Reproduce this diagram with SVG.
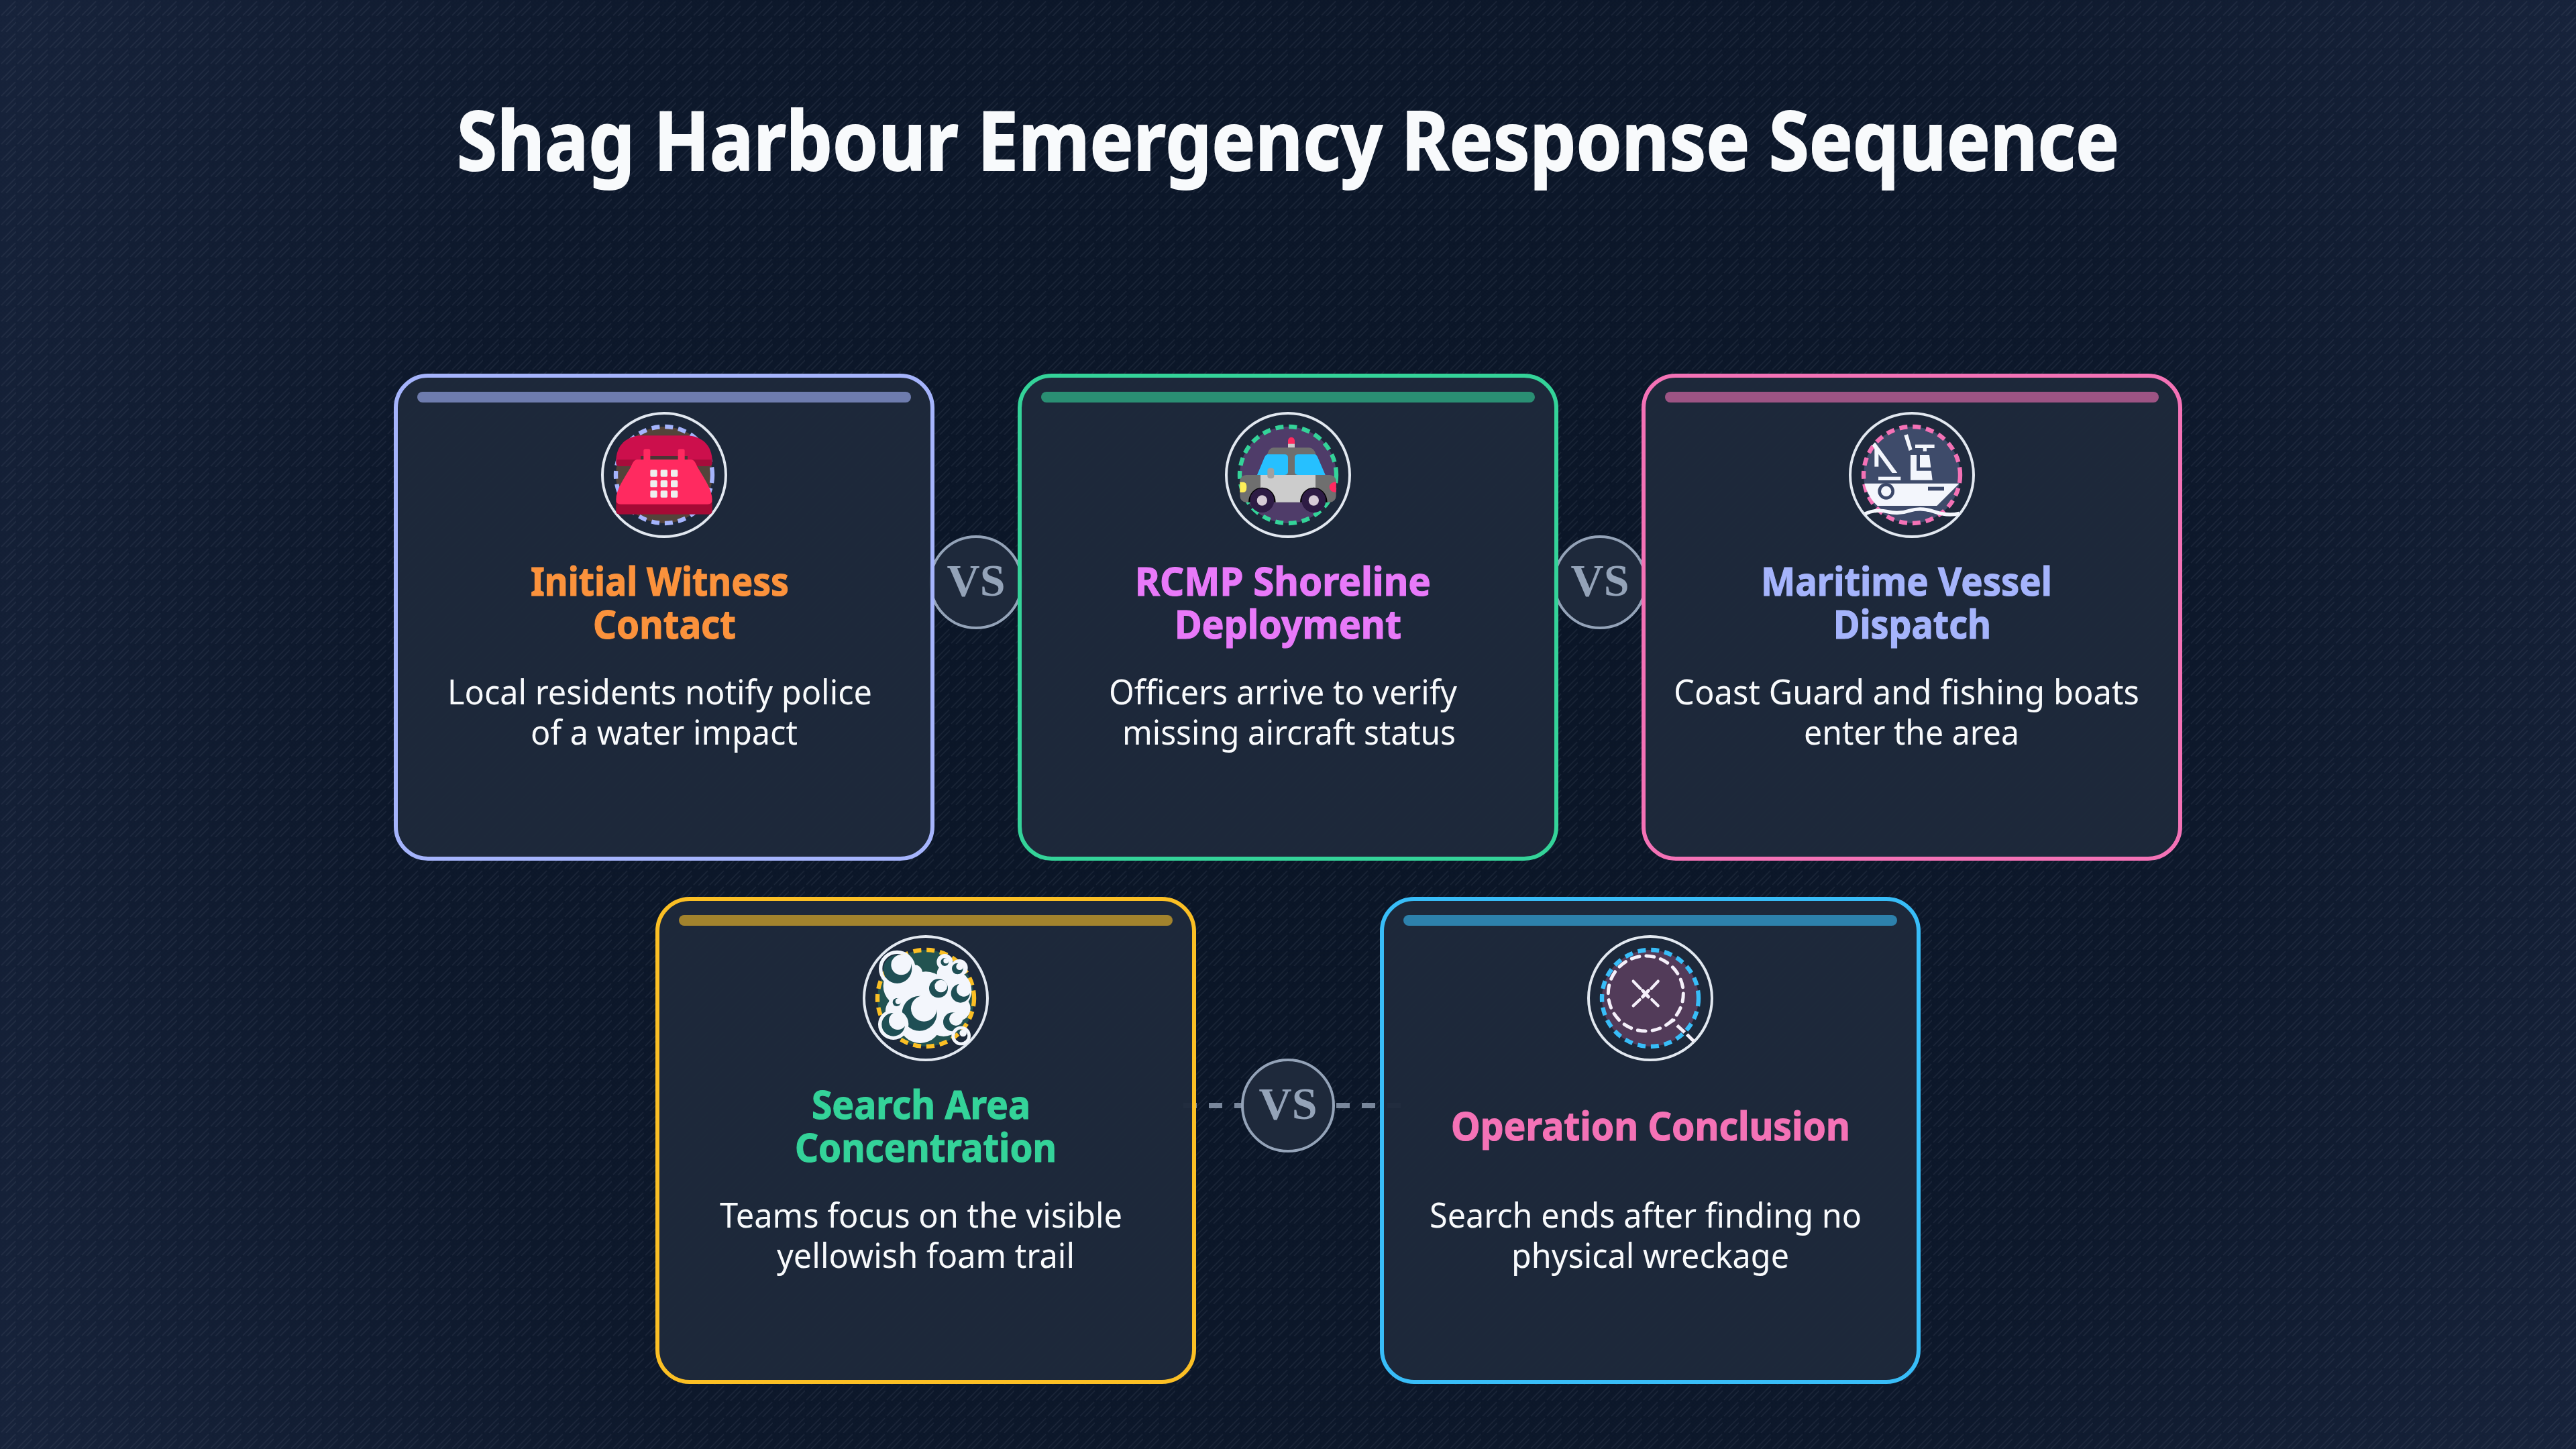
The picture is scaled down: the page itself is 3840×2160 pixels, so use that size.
<svg xmlns="http://www.w3.org/2000/svg" width="3840" height="2160" viewBox="0 0 3840 2160">
<defs>
<radialGradient id="bg" gradientUnits="userSpaceOnUse" cx="1920" cy="1080" r="2200"><stop offset="0" stop-color="#0a1526"/><stop offset="0.62" stop-color="#0d182b"/><stop offset="1" stop-color="#17233b"/></radialGradient>
<pattern id="hatch" width="24" height="24" patternUnits="userSpaceOnUse"><path d="M2,23 L23,2 M9,24 L24,9" stroke="#94a3b8" stroke-opacity="0.1" stroke-width="1.7" fill="none"/></pattern>
</defs>
<style>
text{font-family:"Noto Sans","Open Sans","Liberation Sans",sans-serif}
.title{font-size:122px;font-weight:700;fill:#f8fafc;stroke:#f8fafc;stroke-width:2}
.h{font-size:60px;font-weight:700;stroke-width:1.2}
.o{fill:#fb923c;stroke:#fb923c}.f{fill:#e879f9;stroke:#e879f9}.p{fill:#a5b4fc;stroke:#a5b4fc}.g{fill:#34d399;stroke:#34d399}.k{fill:#f472b6;stroke:#f472b6}
.b{font-size:51px;font-weight:400;fill:#f8fafc}
.card{fill:#1e293b;fill-opacity:.97;stroke-width:6}
.bar{opacity:.6}
.ring{fill:none;stroke:#e2e8f0;stroke-width:4}
.dash{fill-opacity:.25;stroke-width:6.4;stroke-dasharray:12 8}
.vsc{fill:#1e293b;stroke:#94a3b8;stroke-width:4}
.vs{font-family:"Liberation Serif","Times New Roman",serif;font-size:68px;font-weight:700;fill:#94a3b8}
.ic{fill:#f3f6fc}
.dk{fill:#3a4768}
</style>
<rect width="3840" height="2160" fill="url(#bg)"/>
<rect width="3840" height="2160" fill="url(#hatch)"/>
<text class="title" x="681" y="254" textLength="2478" lengthAdjust="spacingAndGlyphs">Shag Harbour Emergency Response Sequence</text>

<g id="connectors">
<line x1="1764" y1="1648" x2="2088" y2="1648" stroke="#94a3b8" stroke-opacity=".8" stroke-width="8" stroke-dasharray="20 18"/>
</g>
<g id="vs-1"><circle class="vsc" cx="1455" cy="868" r="68"/><text class="vs" x="1455" y="888" text-anchor="middle">VS</text></g>
<g id="vs-2"><circle class="vsc" cx="2385" cy="868" r="68"/><text class="vs" x="2385" y="888" text-anchor="middle">VS</text></g>
<g id="vs-3"><circle class="vsc" cx="1920" cy="1648" r="68"/><text class="vs" x="1920" y="1668" text-anchor="middle">VS</text></g>

<g id="card-1">
<rect class="card" x="590" y="560" width="800" height="720" rx="48" stroke="#a5b4fc"/>
<rect class="bar" x="622" y="584" width="736" height="16" rx="8" fill="#a5b4fc"/>
<circle class="ring" cx="990" cy="708" r="92"/>
<circle class="dash" cx="990" cy="708" r="72" fill="#fb923c" stroke="#a5b4fc"/>
<g transform="translate(840,590) scale(.33333)">
<path d="M235,470 H665 V515 Q665,530 650,530 H250 Q235,530 235,515Z" fill="#a50a35"/>
<path d="M235,285 C240,205 300,178 350,178 H550 C600,178 660,205 665,285 Z" fill="#cc0f4c"/>
<rect x="345" y="270" width="210" height="50" fill="#4a3535"/>
<path d="M235,285 H345 V315 H250 Q235,315 235,300Z" fill="#a70c3b"/><path d="M555,285 H665 V300 Q665,315 650,315 H555Z" fill="#a70c3b"/>
<path d="M330,285 H570 C585,285 590,300 600,320 C630,370 665,420 665,465 Q665,485 645,485 H255 Q235,485 235,465 C235,420 270,370 300,320 C310,300 315,285 330,285Z" fill="#ff2a60"/>
<rect x="358" y="238" width="30" height="56" rx="8" fill="#ff2a60"/><rect x="512" y="238" width="30" height="56" rx="8" fill="#ff2a60"/>
<g fill="#eeeeee"><rect x="388" y="331" width="31" height="31" rx="5"/><rect x="434" y="331" width="31" height="31" rx="5"/><rect x="480" y="331" width="31" height="31" rx="5"/><rect x="388" y="378" width="31" height="31" rx="5"/><rect x="434" y="378" width="31" height="31" rx="5"/><rect x="480" y="378" width="31" height="31" rx="5"/><rect x="388" y="424" width="31" height="31" rx="5"/><rect x="434" y="424" width="31" height="31" rx="5"/><rect x="480" y="424" width="31" height="31" rx="5"/></g>
</g>
<text class="h o"><tspan x="791" y="888" textLength="385" lengthAdjust="spacingAndGlyphs">Initial Witness</tspan><tspan x="884" y="952" textLength="213" lengthAdjust="spacingAndGlyphs">Contact</tspan></text>
<text class="b"><tspan x="667" y="1050" textLength="633" lengthAdjust="spacingAndGlyphs">Local residents notify police</tspan><tspan x="791" y="1110" textLength="398" lengthAdjust="spacingAndGlyphs">of a water impact</tspan></text>
</g>

<g id="card-2">
<rect class="card" x="1520" y="560" width="800" height="720" rx="48" stroke="#34d399"/>
<rect class="bar" x="1552" y="584" width="736" height="16" rx="8" fill="#34d399"/>
<circle class="ring" cx="1920" cy="708" r="92"/>
<circle class="dash" cx="1920" cy="708" r="72" fill="#e879f9" stroke="#34d399"/>
<g transform="translate(1770,590) scale(.33333)">
<path d="M450,232 V205 Q450,185 465,185 Q480,185 480,205 V232Z" fill="#ff2a60"/>
<rect x="450" y="215" width="30" height="17" fill="#cccccc"/>
<path d="M385,232 H545 Q565,232 575,262 L617,354 H312 L360,255 Q368,232 385,232Z" fill="#6f6f6f"/>
<path d="M358,262 H435 Q450,262 450,277 V340 Q450,354 435,354 H312 L342,282 Q350,262 358,262Z" fill="#26c0ff"/>
<path d="M495,262 H570 Q578,262 586,282 L617,354 H495 Q480,354 480,340 V277 Q480,262 495,262Z" fill="#26c0ff"/>
<rect x="235" y="354" width="430" height="122" rx="28" fill="#6f6f6f"/>
<rect x="327" y="354" width="246" height="122" fill="#cccccc"/>
<rect x="358" y="323" width="30" height="47" rx="12" fill="#a0a0a0"/>
<path d="M235,386 H250 Q265,386 265,408 Q265,432 250,432 H235Z" fill="#ffee58"/>
<path d="M665,385 Q635,388 635,408 Q635,430 665,432Z" fill="#ff2a60"/>
<path d="M273,476 A61,66 0 0 1 395,476Z" fill="#000"/><path d="M504,476 A61,66 0 0 1 626,476Z" fill="#000"/>
<circle cx="334" cy="468" r="54" fill="#2d1b44"/><circle cx="565" cy="468" r="54" fill="#2d1b44"/>
<circle cx="334" cy="468" r="23" fill="#d6cbd6"/><circle cx="565" cy="468" r="23" fill="#d6cbd6"/>
</g>
<text class="h f"><tspan x="1692" y="888" textLength="441" lengthAdjust="spacingAndGlyphs">RCMP Shoreline</tspan><tspan x="1751" y="952" textLength="338" lengthAdjust="spacingAndGlyphs">Deployment</tspan></text>
<text class="b"><tspan x="1653" y="1050" textLength="519" lengthAdjust="spacingAndGlyphs">Officers arrive to verify</tspan><tspan x="1673" y="1110" textLength="497" lengthAdjust="spacingAndGlyphs">missing aircraft status</tspan></text>
</g>

<g id="card-3">
<rect class="card" x="2450" y="560" width="800" height="720" rx="48" stroke="#f472b6"/>
<rect class="bar" x="2482" y="584" width="736" height="16" rx="8" fill="#f472b6"/>
<circle class="ring" cx="2850" cy="708" r="92"/>
<circle class="dash" cx="2850" cy="708" r="72" fill="#a5b4fc" stroke="#f472b6"/>
<g transform="translate(2700,590) scale(.33333)">
<path class="ic" d="M238,392 H662 L562,492 H296 C270,470 248,430 238,392Z"/>
<circle class="ic" cx="335" cy="427" r="30" stroke="#3a4768" stroke-width="14"/>
<rect class="dk" x="522" y="407" width="72" height="17"/>
<path d="M240,528 Q290,505 340,518 T440,514 T550,518 T662,526" fill="none" stroke="#f3f6fc" stroke-width="16"/>
<rect class="ic" x="300" y="362" width="100" height="16"/>
<rect class="ic" x="283" y="235" width="18" height="82"/>
<path class="ic" d="M272,222 L285,208 L385,345 H362Z"/>
<path class="ic" d="M444,264 H528 L542,377 H444Z"/>
<path class="dk" d="M471,262 H486 V320 H540 V335 H471Z"/>
<rect class="ic" x="465" y="218" width="86" height="16"/><rect class="ic" x="500" y="234" width="16" height="14"/>
<path class="ic" d="M415,177 L432,172 L452,240 L437,246Z"/>
</g>
<text class="h p"><tspan x="2625" y="888" textLength="434" lengthAdjust="spacingAndGlyphs">Maritime Vessel</tspan><tspan x="2733" y="952" textLength="235" lengthAdjust="spacingAndGlyphs">Dispatch</tspan></text>
<text class="b"><tspan x="2495" y="1050" textLength="694" lengthAdjust="spacingAndGlyphs">Coast Guard and fishing boats</tspan><tspan x="2689" y="1110" textLength="321" lengthAdjust="spacingAndGlyphs">enter the area</tspan></text>
</g>

<g id="card-4">
<rect class="card" x="980" y="1340" width="800" height="720" rx="48" stroke="#fbbf24"/>
<rect class="bar" x="1012" y="1364" width="736" height="16" rx="8" fill="#fbbf24"/>
<circle class="ring" cx="1380" cy="1488" r="92"/>
<circle class="dash" cx="1380" cy="1488" r="72" fill="#34d399" stroke="#fbbf24"/>
<g transform="translate(1230,1370) scale(.33333)">
<g class="ic">
<circle cx="350" cy="300" r="90"/><circle cx="450" cy="340" r="105"/><circle cx="560" cy="320" r="95"/><circle cx="595" cy="400" r="55"/><circle cx="425" cy="460" r="95"/><circle cx="530" cy="440" r="85"/><circle cx="330" cy="410" r="60"/><circle cx="535" cy="192" r="36"/><circle cx="600" cy="218" r="38"/><circle cx="545" cy="245" r="45"/><circle cx="400" cy="240" r="35"/>
</g>
<g fill="#1f4f55">
<circle cx="325" cy="225" r="65"/><circle cx="422" cy="422" r="78"/><circle cx="507" cy="310" r="42"/><circle cx="605" cy="332" r="42"/><circle cx="570" cy="460" r="42"/><circle cx="320" cy="372" r="18"/><circle cx="535" cy="192" r="18"/><circle cx="592" cy="222" r="25"/><circle cx="305" cy="472" r="55"/>
</g>
<g class="ic">
<circle cx="340" cy="205" r="45"/><circle cx="442" cy="400" r="58"/><circle cx="518" cy="300" r="28"/><circle cx="620" cy="315" r="32"/><circle cx="585" cy="447" r="30"/><circle cx="327" cy="368" r="13"/><circle cx="541" cy="187" r="12"/><circle cx="602" cy="212" r="16"/><circle cx="325" cy="455" r="40"/><circle cx="617" cy="510" r="16"/>
</g>
<g fill="none" stroke="#f3f6fc"><circle cx="322" cy="222" r="74" stroke-width="16"/><circle cx="305" cy="472" r="60" stroke-width="16"/><circle cx="608" cy="522" r="36" stroke-width="14"/><circle cx="320" cy="372" r="28" stroke-width="13"/></g>
</g>
<text class="h g"><tspan x="1210" y="1668" textLength="326" lengthAdjust="spacingAndGlyphs">Search Area</tspan><tspan x="1185" y="1732" textLength="390" lengthAdjust="spacingAndGlyphs">Concentration</tspan></text>
<text class="b"><tspan x="1073" y="1830" textLength="600" lengthAdjust="spacingAndGlyphs">Teams focus on the visible</tspan><tspan x="1158" y="1890" textLength="444" lengthAdjust="spacingAndGlyphs">yellowish foam trail</tspan></text>
</g>

<g id="card-5">
<rect class="card" x="2060" y="1340" width="800" height="720" rx="48" stroke="#38bdf8"/>
<rect class="bar" x="2092" y="1364" width="736" height="16" rx="8" fill="#38bdf8"/>
<circle class="ring" cx="2460" cy="1488" r="92"/>
<circle class="dash" cx="2460" cy="1488" r="72" fill="#f472b6" stroke="#38bdf8"/>
<g transform="translate(2310,1370) scale(.33333)" fill="none" stroke="#f5f0fa" stroke-width="15">
<circle cx="430" cy="333" r="168" stroke-linecap="round" stroke-dasharray="36 30"/>
<g stroke-linecap="round" stroke-width="13">
<path d="M374,278 L406,311 M485,278 L454,311 M374,388 L404,360 M485,388 L457,360"/>
<path d="M416,320 L442,348 M442,320 L416,348" stroke-width="15"/>
<path d="M530,468 L556,452"/>
</g>
<path d="M570,476 L604,507 M614,516 L645,547" stroke-width="15"/>
</g>
<text class="h k" x="2163" y="1700" textLength="595" lengthAdjust="spacingAndGlyphs">Operation Conclusion</text>
<text class="b"><tspan x="2131" y="1830" textLength="644" lengthAdjust="spacingAndGlyphs">Search ends after finding no</tspan><tspan x="2253" y="1890" textLength="414" lengthAdjust="spacingAndGlyphs">physical wreckage</tspan></text>
</g>
</svg>
